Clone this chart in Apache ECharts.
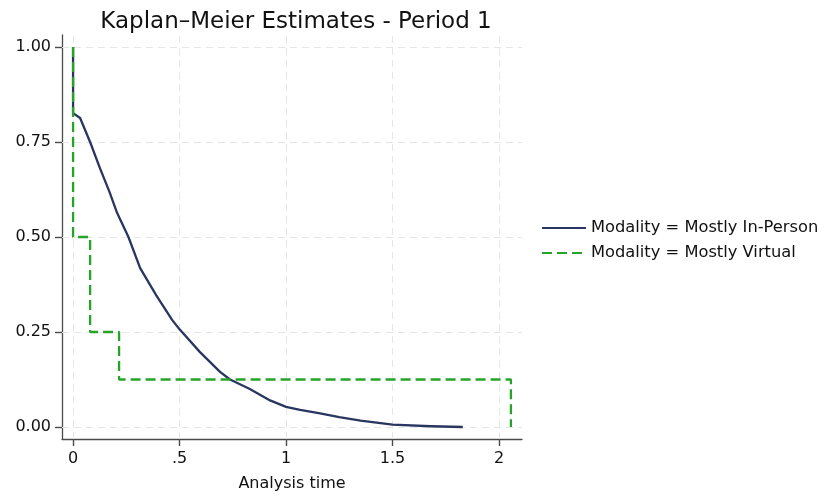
<!DOCTYPE html>
<html>
<head>
<meta charset="utf-8">
<script src="https://cdn.jsdelivr.net/npm/echarts@6/dist/echarts.min.js"></script>
<style>
html,body{margin:0;padding:0;background:#fff;}
#main{width:824px;height:499px;}
</style>
</head>
<body>
<div id="main"></div>
<script>
// KM estimates
var inPersonTime = [0, 0, 0.033, 0.08, 0.127, 0.17, 0.207, 0.26, 0.315, 0.39, 0.465, 0.5, 0.596, 0.69, 0.737, 0.83, 0.925, 1.0, 1.066, 1.16, 1.25, 1.35, 1.5, 1.68, 1.83];
var inPersonSurv = [1, 0.826, 0.813, 0.75, 0.68, 0.62, 0.563, 0.5, 0.418, 0.347, 0.282, 0.257, 0.197, 0.145, 0.125, 0.1, 0.07, 0.053, 0.045, 0.036, 0.026, 0.017, 0.006, 0.002, 0];
var virtualTime = [0, 0, 0.08, 0.216, 2.056];
var virtualSurv = [1, 0.5, 0.25, 0.125, 0];
var xTicks = [0, 0.5, 1, 1.5, 2];
var xTickLabels = ['0', '.5', '1', '1.5', '2'];
var yTicks = [0, 0.25, 0.5, 0.75, 1];
var yTickLabels = ['0.00', '0.25', '0.50', '0.75', '1.00'];

function pairs(t, s){
	var out = [];
	for(var i=0;i<t.length;i++){
		out.push([t[i], s[i]]);
	}
	return out;
}
function pickLabel(ticks, labels, v){
	for(var i=0;i<ticks.length;i++){ if(Math.abs(ticks[i]-v)<1e-9) return labels[i]; }
	return '';
}

var gridLines = [];
for(var i=0;i<xTicks.length;i++){ gridLines.push({xAxis: xTicks[i]}); }
for(var j=0;j<yTicks.length;j++){ gridLines.push({yAxis: yTicks[j]}); }

var myChart = echarts.init(document.getElementById('main'));
var font = 'DejaVu Sans, Liberation Sans, sans-serif';
var axisColor = '#4a4a4a';
var option = {
	animation: false,
	title: {
		text: 'Kaplan–Meier Estimates - Period 1',
		left: 291,
		textAlign: 'center',
		top: 6,
		textStyle: {fontFamily: font, fontSize: 23, fontWeight: 'normal', color: '#111'}
	},
	legend: {
		orient: 'vertical',
		left: 536,
		top: 215,
		itemWidth: 44,
		itemHeight: 14,
		itemGap: 9,
		itemStyle: {opacity: 0},
		textStyle: {fontFamily: font, fontSize: 16.3, color: '#111'},
		data: ['Modality = Mostly In-Person', 'Modality = Mostly Virtual']
	},
	grid: {left: 62, right: 302, top: 35, bottom: 60, outerBoundsMode: 'none', containLabel: false},
	xAxis: {
		type: 'value',
		min: -0.052,
		max: 2.108,
		name: 'Analysis time',
		nameLocation: 'middle',
		nameGap: 37,
		nameTextStyle: {fontFamily: font, fontSize: 16, color: '#111'},
		axisLine: {show: true, onZero: false, lineStyle: {color: axisColor, width: 1.3}},
		axisTick: {show: true, length: 7, customValues: xTicks, lineStyle: {color: axisColor, width: 1.4}},
		axisLabel: {
			customValues: xTicks,
			margin: 12,
			fontFamily: font, fontSize: 16, color: '#111',
			formatter: function(v){ return pickLabel(xTicks, xTickLabels, v); }
		},
		splitLine: {show: false}
	},
	yAxis: {
		type: 'value',
		min: -0.0316,
		max: 1.0316,
		axisLine: {show: true, onZero: false, lineStyle: {color: axisColor, width: 1.3}},
		axisTick: {show: true, length: 7, customValues: yTicks, lineStyle: {color: axisColor, width: 1.4}},
		axisLabel: {
			customValues: yTicks,
			margin: 11,
			fontFamily: font, fontSize: 16, color: '#111',
			formatter: function(v){ return pickLabel(yTicks, yTickLabels, v); }
		},
		splitLine: {show: false}
	},
	series: [
		{
			name: 'grid',
			type: 'line',
			data: [],
			z: 1,
			silent: true,
			markLine: {
				silent: true,
				z: 1,
				symbol: 'none',
				label: {show: false},
				lineStyle: {color: '#e6e6e6', type: [7, 5], width: 1},
				data: gridLines
			}
		},
		{
			name: 'Modality = Mostly In-Person',
			type: 'line',
			z: 3,
			showSymbol: false,
			symbol: 'none',
			color: '#293660',
			lineStyle: {color: '#293660', width: 2.3, join: 'round'},
			data: pairs(inPersonTime, inPersonSurv)
		},
		{
			name: 'Modality = Mostly Virtual',
			type: 'line',
			z: 4,
			step: 'end',
			showSymbol: false,
			symbol: 'none',
			color: '#27a327',
			lineStyle: {color: '#27a327', width: 2.3, type: [10, 5]},
			data: pairs(virtualTime, virtualSurv)
		}
	]
};
myChart.setOption(option);
</script>
</body>
</html>
